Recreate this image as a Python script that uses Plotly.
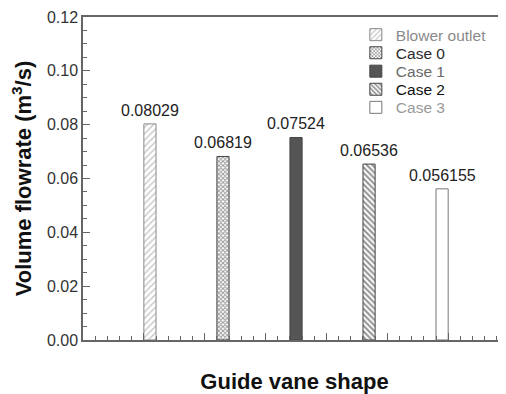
import plotly.graph_objects as go

categories = ["Blower outlet", "Case 0", "Case 1", "Case 2", "Case 3"]
x_positions = [1.1, 2.3, 3.5, 4.7, 5.9]
flowrates = [0.08029, 0.06819, 0.07524, 0.06536, 0.056155]
value_labels = ["0.08029", "0.06819", "0.07524", "0.06536", "0.056155"]
legend_colors = ["#8a8a8a", "#2a2a2a", "#6a6a6a", "#111111", "#9a9a9a"]
legend_rows_y = [0.944, 0.888, 0.831, 0.775, 0.719]

styles = [
    dict(color="white", line=dict(color="#8a8a8a", width=1),
         pattern=dict(shape="/", fgcolor="#8a8a8a", bgcolor="white", size=4.5, solidity=0.3)),
    dict(color="white", line=dict(color="#444444", width=1),
         pattern=dict(shape="x", fgcolor="#333333", bgcolor="white", size=3, solidity=0.55)),
    dict(color="#555555", line=dict(color="#444444", width=1)),
    dict(color="white", line=dict(color="#444444", width=1),
         pattern=dict(shape="\\", fgcolor="#222222", bgcolor="white", size=4, solidity=0.5)),
    dict(color="white", line=dict(color="#777777", width=1)),
]

fig = go.Figure()
legend_layouts = {}
for i, (name, xp, val, st, lc, ly) in enumerate(
        zip(categories, x_positions, flowrates, styles, legend_colors, legend_rows_y)):
    key = "legend" if i == 0 else f"legend{i + 1}"
    fig.add_trace(go.Bar(
        x=[xp], y=[val], width=0.2,
        name=name,
        marker=st,
        legend=key,
    ))
    legend_layouts[key] = dict(
        x=0.645, y=ly, xanchor="left", yanchor="middle",
        bgcolor="rgba(0,0,0,0)", borderwidth=0,
        font=dict(family="Arial, Liberation Sans", size=15.5, color=lc),
    )

for xp, val, lab in zip(x_positions, flowrates, value_labels):
    fig.add_annotation(x=xp, y=val, text=lab, showarrow=False,
                       yanchor="bottom", yshift=3,
                       font=dict(family="Arial, Liberation Sans", size=16, color="#222222"))

axis_line = "#666666"
fig.update_layout(
    width=498, height=386,
    margin=dict(l=75, r=0, t=9, b=54),
    plot_bgcolor="white", paper_bgcolor="white",
    font=dict(family="Arial, Liberation Sans", size=16, color="#333333"),
    showlegend=True,
    xaxis=dict(
        range=[0, 6.95], showgrid=False, zeroline=False, automargin=False,
        showline=True, linecolor=axis_line, linewidth=1.5, mirror=True,
        ticks="inside", dtick=1, tick0=0, ticklen=7, tickcolor=axis_line, tickwidth=1,
        showticklabels=False,
        minor=dict(ticks="inside", dtick=0.2, tick0=0, ticklen=4, tickcolor=axis_line, tickwidth=1),
        title=dict(text="<b>Guide vane shape</b>", standoff=33,
                   font=dict(family="Arial, Liberation Sans", size=22, color="#111111")),
    ),
    yaxis=dict(
        range=[0, 0.12], showgrid=False, zeroline=False, automargin=False,
        showline=True, linecolor=axis_line, linewidth=1.5,
        ticks="inside", dtick=0.02, tick0=0, ticklen=7, tickcolor=axis_line, tickwidth=1,
        tickformat=".2f",
        minor=dict(ticks="inside", dtick=0.005, tick0=0, ticklen=4, tickcolor=axis_line, tickwidth=1),
        title=dict(text="<b>Volume flowrate (m<sup>3</sup>/s)</b>", standoff=12,
                   font=dict(family="Arial, Liberation Sans", size=22, color="#111111")),
    ),
    **legend_layouts,
)

fig.write_html("out.html")
